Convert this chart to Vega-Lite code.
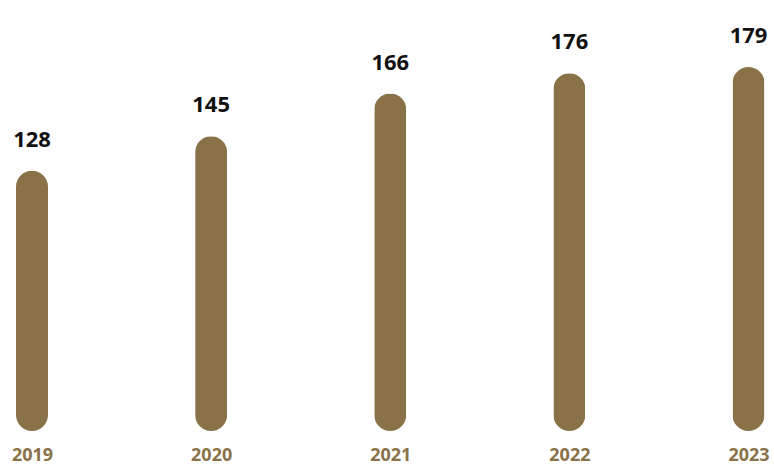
{
  "$schema": "https://vega.github.io/schema/vega-lite/v6.json",
  "width": 774,
  "height": 431,
  "autosize": {"type": "none"},
  "padding": {"left": 0, "top": 0, "right": 0, "bottom": 34},
  "background": "white",
  "config": {"view": {"stroke": null}},
  "data": {
    "values": [
      {"year": "2019", "value": 128},
      {"year": "2020", "value": 145},
      {"year": "2021", "value": 166},
      {"year": "2022", "value": 176},
      {"year": "2023", "value": 179}
    ]
  },
  "encoding": {
    "x": {
      "field": "year",
      "type": "ordinal",
      "scale": {"type": "point", "range": [32, 748.5], "padding": 0},
      "axis": {
        "title": null,
        "domain": false,
        "ticks": false,
        "grid": false,
        "labelAngle": 0,
        "labelPadding": 15,
        "labelFont": "Open Sans",
        "labelFontWeight": "bold",
        "labelFontSize": 18,
        "labelColor": "#8A7248"
      }
    },
    "y": {
      "field": "value",
      "type": "quantitative",
      "scale": {"domain": [0, 212]},
      "axis": null
    }
  },
  "layer": [
    {
      "mark": {"type": "bar", "width": 32, "cornerRadius": 16, "color": "#8A7248"}
    },
    {
      "mark": {
        "type": "text",
        "dy": -24,
        "baseline": "alphabetic",
        "font": "Open Sans",
        "fontWeight": "bold",
        "fontSize": 22,
        "color": "#111111"
      },
      "encoding": {"text": {"field": "value", "type": "quantitative"}}
    }
  ]
}
